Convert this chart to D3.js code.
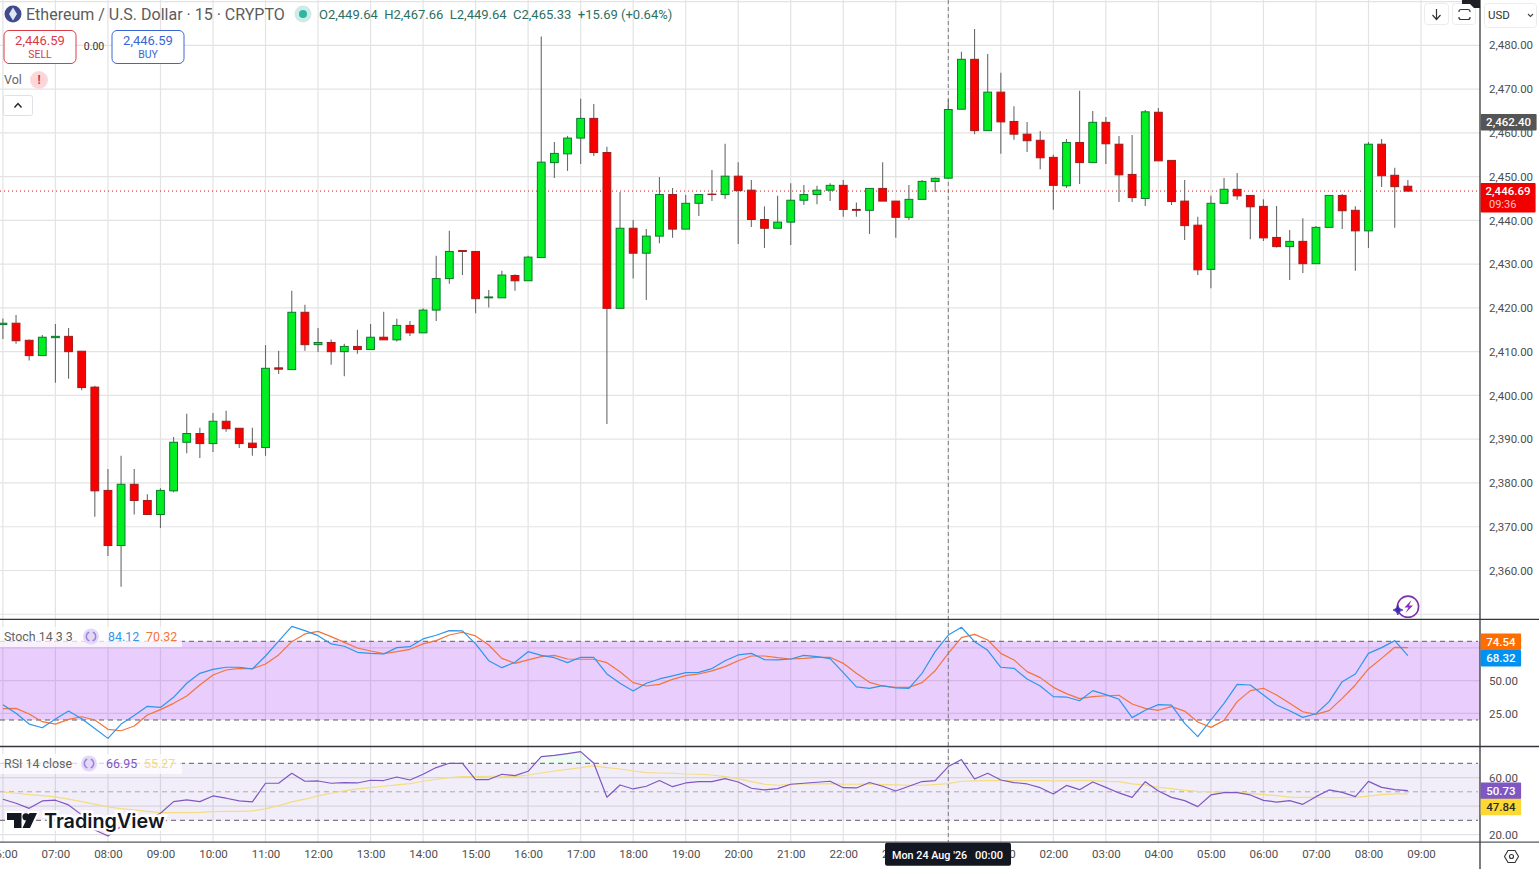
<!DOCTYPE html>
<html>
<head>
<meta charset="utf-8">
<title>ETHUSD 15</title>
<script src="https://cdn.jsdelivr.net/npm/d3@7/dist/d3.min.js"></script>
<style>
  html, body { margin: 0; padding: 0; background: #fff; overflow: hidden; }
  svg { display: block; font-family: Roboto, sans-serif; }
  .axis path, .axis line { display: none; }
  .axis text { fill: #4e4e4e; font-family: Roboto, sans-serif; font-size: 11.5px; }
</style>
</head>
<body>
<svg id="chart" width="1539" height="869"></svg>
<script>
// one bar every 15 minutes, first bar 06:00 on 23 Aug 2026
const opens = [
  2416.2,2416.5,2412.6,2409.1,2413.2,2413.5,2410.1,2401.9,2378.3,2365.7,
  2379.7,2376.0,2372.8,2378.2,2389.3,2391.3,2389.0,2394.1,2392.5,2389.1,
  2388.1,2406.3,2405.9,2419.0,2411.6,2412.1,2410.0,2411.2,2410.5,2413.3,
  2412.7,2416.0,2414.3,2419.5,2426.7,2433.1,2432.9,2422.3,2422.3,2427.4,
  2426.2,2431.5,2453.2,2455.2,2458.8,2463.3,2455.5,2419.9,2438.2,2432.5,
  2436.4,2445.9,2438.0,2443.9,2446.0,2445.9,2450.1,2446.9,2440.2,2438.2,
  2439.6,2444.6,2445.9,2446.9,2448.0,2442.5,2442.3,2447.3,2444.4,2440.7,
  2444.8,2448.9,2449.64,2465.4,2476.8,2460.5,2469.3,2462.6,2459.7,2458.3,
  2454.4,2447.9,2457.8,2453.2,2462.4,2457.4,2450.5,2445.0,2464.7,2453.7,
  2444.4,2438.9,2428.8,2443.9,2447.1,2445.7,2443.2,2436.1,2434.0,2435.2,
  2430.1,2438.4,2445.7,2442.3,2437.6,2457.4,2450.3,2447.8
]
const highs = [
  2417.6,2418.4,2412.8,2413.8,2416.3,2415.4,2410.1,2402.2,2383.2,2386.2,
  2383.2,2377.4,2378.8,2390.5,2395.8,2392.6,2396.0,2396.5,2392.5,2392.6,
  2411.5,2410.2,2423.9,2420.7,2415.4,2412.8,2411.8,2415.0,2416.3,2419.1,
  2417.5,2417.0,2419.9,2431.9,2437.6,2433.1,2432.9,2424.1,2428.5,2427.7,
  2431.9,2482.0,2457.9,2459.3,2467.8,2466.6,2456.8,2446.5,2440.1,2438.0,
  2449.9,2447.4,2445.8,2445.9,2451.5,2457.5,2453.3,2449.2,2443.2,2445.6,
  2448.5,2448.1,2447.9,2448.5,2449.2,2444.1,2447.3,2453.3,2444.4,2448.1,
  2449.2,2449.8,2467.66,2478.5,2483.7,2478.0,2473.7,2466.1,2462.5,2460.4,
  2455.0,2458.6,2469.6,2465.0,2463.6,2459.3,2459.5,2465.2,2465.7,2453.7,
  2449.2,2440.8,2445.6,2449.7,2450.8,2445.7,2444.8,2443.3,2437.8,2440.5,
  2438.7,2445.7,2446.0,2443.2,2457.9,2458.6,2452.0,2449.2
]
const lows = [
  2412.9,2411.8,2408.0,2409.1,2402.9,2403.8,2401.2,2372.3,2363.3,2356.3,
  2372.8,2372.8,2369.7,2377.9,2386.8,2385.7,2387.1,2391.7,2388.0,2386.2,
  2386.2,2404.9,2405.9,2410.2,2409.9,2407.0,2404.4,2409.5,2410.5,2412.7,
  2412.3,2413.6,2414.3,2417.0,2425.5,2427.5,2418.8,2420.1,2422.3,2423.9,
  2426.2,2431.5,2449.7,2451.3,2452.9,2454.7,2393.5,2419.9,2426.7,2421.8,
  2434.8,2436.0,2438.0,2441.0,2444.4,2444.9,2434.6,2438.5,2433.7,2438.2,
  2434.4,2443.5,2443.7,2444.4,2440.8,2440.8,2436.9,2444.4,2436.0,2440.1,
  2444.8,2446.5,2449.64,2465.4,2459.7,2460.5,2455.2,2458.4,2455.6,2451.7,
  2442.4,2447.4,2448.3,2453.2,2452.9,2444.2,2444.2,2443.3,2453.6,2443.5,
  2435.5,2427.5,2424.5,2443.9,2444.7,2435.7,2435.3,2433.8,2426.4,2428.0,
  2430.1,2438.4,2438.0,2428.5,2433.7,2447.6,2438.3,2446.6
]
const closes = [
  2416.5,2412.5,2409.1,2413.3,2413.5,2410.0,2401.8,2378.2,2365.7,2379.7,
  2376.0,2372.8,2378.3,2389.3,2391.3,2389.0,2394.1,2392.4,2389.0,2388.1,
  2406.2,2406.0,2419.0,2411.6,2412.1,2410.0,2411.2,2410.5,2413.3,2412.7,
  2416.0,2414.3,2419.5,2426.7,2432.9,2432.9,2422.1,2422.5,2427.5,2426.2,
  2431.6,2453.3,2455.3,2458.8,2463.3,2455.5,2419.9,2438.2,2432.5,2436.4,
  2445.9,2438.0,2443.9,2445.9,2445.9,2450.1,2446.8,2440.2,2438.2,2439.6,
  2444.6,2445.9,2446.9,2448.0,2442.5,2442.3,2447.3,2444.4,2440.7,2444.8,
  2448.9,2449.6,2465.33,2476.8,2460.5,2469.3,2462.5,2459.7,2458.2,2454.3,
  2448.0,2457.8,2453.2,2462.4,2457.5,2450.4,2445.2,2464.8,2453.6,2444.3,
  2438.8,2428.7,2443.9,2447.1,2445.6,2443.1,2436.0,2434.0,2435.2,2430.1,
  2438.4,2445.7,2442.2,2437.6,2457.4,2450.2,2447.7,2446.69
]
const stochK = [
  31.7,25.1,16.9,14.1,20.8,26.8,21.0,13.6,6.0,16.9,
  23.5,30.4,29.6,37.3,48.0,55.6,58.6,60.2,60.2,58.9,
  68.8,80.2,91.4,88.1,84.3,78.0,76.2,71.6,70.8,70.3,
  75.2,75.9,81.8,84.6,88.1,87.9,78.0,65.2,59.9,64.0,
  72.1,69.3,67.5,63.7,67.8,67.8,55.1,48.0,42.1,48.0,
  51.3,53.6,56.1,56.3,59.2,65.2,69.6,70.8,66.0,65.8,
  66.5,69.3,68.3,66.8,56.1,45.2,44.1,46.2,44.4,44.1,
  55.6,72.1,84.8,90.7,79.7,73.1,60.2,59.4,51.3,45.9,
  37.8,37.5,34.7,42.4,39.3,35.8,21.8,27.4,31.7,31.4,
  17.4,7.3,20.0,32.7,47.2,46.7,39.1,31.4,27.1,22.0,
  24.8,34.0,49.2,55.1,70.8,75.2,80.5,69.1
]
const stochD = [
  28.6,28.9,24.6,18.7,16.9,20.5,22.5,20.0,12.9,11.8,
  15.4,23.8,27.9,32.7,38.3,46.7,54.3,58.1,59.4,59.1,
  62.7,69.6,79.7,85.6,87.6,83.6,79.2,74.9,72.6,70.6,
  72.1,73.9,78.0,80.5,84.8,86.9,84.1,77.2,67.0,63.2,
  65.8,68.3,69.3,66.5,66.3,66.3,63.7,56.8,48.5,45.9,
  47.2,51.0,53.8,55.1,57.4,60.7,65.2,68.8,68.8,67.5,
  66.5,67.0,67.8,67.8,63.2,55.6,48.7,45.9,44.9,44.9,
  48.5,57.6,70.8,82.8,85.3,81.0,70.8,65.8,56.9,52.3,
  44.9,40.1,36.3,37.8,38.5,38.8,32.2,28.9,27.4,30.2,
  26.8,18.5,14.4,19.7,34.0,42.4,44.2,39.1,32.7,26.3,
  24.3,27.1,36.5,46.7,58.9,67.0,75.4,75.2
]
const rsiLine = [
  44.8,42.0,38.4,43.6,44.1,40.8,33.8,23.2,19.0,25.6,
  27.9,30.3,34.9,43.1,44.3,43.1,47.1,45.5,43.6,42.9,
  56.0,56.0,63.0,57.4,57.6,56.0,56.5,56.2,58.1,57.9,
  60.4,58.3,62.3,67.0,70.0,70.0,58.6,58.6,62.3,61.4,
  64.4,74.7,75.6,76.8,78.2,70.0,46.2,54.8,52.0,53.9,
  57.9,53.6,56.2,57.2,57.2,59.3,56.9,52.5,51.3,52.2,
  55.3,56.0,56.7,57.4,52.9,52.7,56.5,53.9,50.6,53.9,
  57.2,57.9,67.7,72.6,59.0,63.0,58.3,56.5,55.5,52.9,
  48.5,54.5,51.5,56.9,53.1,49.2,46.1,57.1,50.6,46.1,
  43.8,39.6,47.8,49.4,49.4,47.8,44.0,42.8,43.8,41.2,
  46.6,51.3,49.6,46.6,57.3,53.1,51.5,50.8
]
const rsiMa = [
  49.9,49.0,48.0,47.3,46.4,44.8,43.1,41.3,39.4,38.2,
  37.3,36.3,35.4,35.4,35.4,35.6,36.1,36.3,36.3,36.6,
  38.0,40.3,42.9,44.8,47.1,49.0,50.6,52.0,52.9,53.9,
  54.8,55.8,57.4,58.8,60.0,60.7,60.7,60.9,60.9,60.7,
  61.8,63.2,64.6,65.8,67.0,68.2,67.0,66.0,64.6,63.5,
  63.2,63.0,62.5,62.3,61.8,60.7,59.3,57.2,55.3,54.6,
  55.3,55.5,55.5,55.8,55.3,55.3,55.5,55.1,54.8,54.6,
  54.6,55.1,55.8,57.4,57.6,57.9,57.9,57.9,57.8,57.8,
  57.6,57.6,57.8,57.8,57.3,57.1,55.5,54.8,53.1,52.2,
  51.0,50.3,49.9,49.9,49.9,48.9,48.0,47.3,46.3,46.1,
  46.1,45.9,45.9,46.1,47.0,48.0,48.5,48.5
]

const priceGrid = [2350,2360,2370,2380,2390,2400,2410,2420,2430,2440,2450,2460,2470,2480,2490]
const priceTicks = [2360,2370,2380,2390,2400,2410,2420,2430,2440,2450,2460,2470,2480]
const stochGrid = [25,50,75]
const stochTicks = [25,50]
const stochLevels = [80,20]
const rsiGrid = [20,40,60]
const rsiTicks = [20,60]
const rsiLevels = [70,30]
const rsiMid = 50
const lastPrice = 2446.69
const crossPrice = 2462.40

const fmtPrice = d3.format(",.2f")
const fmtTime = d3.utcFormat("%H:%M")

const BAR_MS = 15 * 60 * 1000
const startTime = Date.UTC(2026, 7, 23, 6)
const barTime = i => new Date(startTime + i * BAR_MS)
const crossTime = new Date(Date.UTC(2026, 7, 24, 0))
const endTime = new Date(Date.UTC(2026, 7, 24, 9))

const chartRight = 1480
const paneStoch = { top: 619.3, bottom: 746.5 }
const paneRsi = { top: 746.5, bottom: 842.2 }

const x = d3.scaleUtc().domain([barTime(0), endTime]).range([2.9, 1421])
const y = d3.scaleLinear().domain([2360, 2480]).range([570.5, 45.3])
const yStoch = d3.scaleLinear().domain([20, 80]).range([720, 641.3])
const yRsi = d3.scaleLinear().domain([30, 70]).range([820.3, 763.3])

const svg = d3.select("#chart")

// vertical grid runs through all three panes
const hours = d3.utcHour.range(barTime(0), d3.utcHour.offset(endTime, 1))
svg.append("g").selectAll("line").data(hours).join("line")
  .attr("x1", d => x(d)).attr("x2", d => x(d))
  .attr("y1", 0).attr("y2", paneRsi.bottom)
  .attr("stroke", "#e3e3e3").attr("stroke-width", 1.2)

const hGrid = (vals, scale, top, bottom) => svg.append("g").selectAll("line")
  .data(vals.filter(v => scale(v) > top && scale(v) < bottom)).join("line")
  .attr("x1", 0).attr("x2", chartRight)
  .attr("y1", d => scale(d)).attr("y2", d => scale(d))
  .attr("stroke", "#e3e3e3").attr("stroke-width", 1.2)

hGrid(priceGrid, y, 0, paneStoch.top)
hGrid(stochGrid, yStoch, paneStoch.top, paneStoch.bottom)
hGrid(rsiGrid, yRsi, paneRsi.top, paneRsi.bottom)

// indicator bands
svg.append("rect").attr("x", 0).attr("width", chartRight)
  .attr("y", yStoch(stochLevels[0]))
  .attr("height", yStoch(stochLevels[1]) - yStoch(stochLevels[0]))
  .attr("fill", "rgba(160,40,240,0.23)")
svg.append("rect").attr("x", 0).attr("width", chartRight)
  .attr("y", yRsi(rsiLevels[0]))
  .attr("height", yRsi(rsiLevels[1]) - yRsi(rsiLevels[0]))
  .attr("fill", "rgba(126,87,194,0.1)")

const level = (v, scale, color) => svg.append("line")
  .attr("x1", 0).attr("x2", chartRight - 2)
  .attr("y1", scale(v)).attr("y2", scale(v))
  .attr("stroke", color).attr("stroke-width", 1)
  .attr("stroke-dasharray", "5 4")

stochLevels.forEach(v => level(v, yStoch, "#5d5d66"))
rsiLevels.forEach(v => level(v, yRsi, "#5d5d66"))
level(rsiMid, yRsi, "#aaa6b4")

// overbought / oversold shading between the RSI and its levels
const defs = svg.append("defs")
defs.append("clipPath").attr("id", "above70").append("rect")
  .attr("x", 0).attr("y", paneRsi.top).attr("width", chartRight)
  .attr("height", yRsi(70) - paneRsi.top)
defs.append("clipPath").attr("id", "below30").append("rect")
  .attr("x", 0).attr("y", yRsi(30)).attr("width", chartRight)
  .attr("height", paneRsi.bottom - yRsi(30))

const rsiArea = lvl => d3.area()
  .x((d, i) => x(barTime(i))).y0(yRsi(lvl)).y1(d => yRsi(d))
svg.append("path").attr("d", rsiArea(70)(rsiLine))
  .attr("clip-path", "url(#above70)").attr("fill", "rgba(0,200,100,0.07)")
svg.append("path").attr("d", rsiArea(30)(rsiLine))
  .attr("clip-path", "url(#below30)").attr("fill", "rgba(240,40,120,0.14)")

const drawLine = (vals, scale, color) => svg.append("path")
  .datum(vals)
  .attr("fill", "none").attr("stroke", color).attr("stroke-width", 1.2)
  .attr("stroke-linejoin", "round")
  .attr("d", d3.line().x((d, i) => x(barTime(i))).y(d => scale(d)))

drawLine(rsiMa, yRsi, "#f3dc82")
drawLine(rsiLine, yRsi, "#7e57c2")
drawLine(stochD, yStoch, "#f4743b")
drawLine(stochK, yStoch, "#2f96ea")

// crosshair
svg.append("line").attr("x1", x(crossTime)).attr("x2", x(crossTime))
  .attr("y1", 0).attr("y2", paneRsi.bottom)
  .attr("stroke", "#7d7d7d").attr("stroke-width", 1).attr("stroke-dasharray", "4 3")

// last price line
svg.append("line").attr("x1", 0).attr("x2", chartRight)
  .attr("y1", y(lastPrice)).attr("y2", y(lastPrice))
  .attr("stroke", "#d81414").attr("stroke-width", 1).attr("stroke-dasharray", "1 3")

// candles
const bars = d3.range(opens.length).map(i => ({
  t: barTime(i), o: opens[i], h: highs[i], l: lows[i], c: closes[i]
}))
const bodyW = 7.8
const candle = svg.append("g").selectAll("g").data(bars).join("g")
candle.append("line")
  .attr("x1", d => x(d.t)).attr("x2", d => x(d.t))
  .attr("y1", d => y(d.h)).attr("y2", d => y(d.l))
  .attr("stroke", "#6a6a6a").attr("stroke-width", 1.1)
candle.append("rect")
  .attr("x", d => x(d.t) - bodyW / 2).attr("width", bodyW)
  .attr("y", d => y(Math.max(d.o, d.c)))
  .attr("height", d => Math.abs(y(d.o) - y(d.c)))
  .attr("fill", d => d.c >= d.o ? "#00ee22" : "#f80000")
  .attr("stroke", d => d.c >= d.o ? "#0b7a2c" : "#a01c1c")
  .attr("stroke-width", 1)

// pane borders
const border = (x1, y1, x2, y2, color, w) => svg.append("line")
  .attr("x1", x1).attr("y1", y1).attr("x2", x2).attr("y2", y2)
  .attr("stroke", color).attr("stroke-width", w)
border(0, paneStoch.top, 1539, paneStoch.top, "#33363d", 1.3)
border(0, paneStoch.bottom, 1539, paneStoch.bottom, "#33363d", 1.3)
border(0, paneRsi.bottom, 1539, paneRsi.bottom, "#55585f", 1.3)
border(chartRight, 0, chartRight, 869, "#33363d", 1.3)

// axes
svg.append("g").attr("class", "axis")
  .attr("transform", `translate(${chartRight},0)`)
  .call(d3.axisRight(y).tickValues(priceTicks).tickSize(0).tickPadding(9).tickFormat(fmtPrice))
svg.append("g").attr("class", "axis")
  .attr("transform", `translate(${chartRight},0)`)
  .call(d3.axisRight(yStoch).tickValues(stochTicks).tickSize(0).tickPadding(9).tickFormat(d3.format(".2f")))
svg.append("g").attr("class", "axis")
  .attr("transform", `translate(${chartRight},0)`)
  .call(d3.axisRight(yRsi).tickValues(rsiTicks).tickSize(0).tickPadding(9).tickFormat(d3.format(".2f")))
// the 00:00 label sits fully under the crosshair time tag
svg.append("g").attr("class", "axis")
  .attr("transform", `translate(0,${paneRsi.bottom + 2})`)
  .call(d3.axisBottom(x).tickValues(hours.filter(h => +h !== +crossTime)).tickSize(0).tickPadding(6).tickFormat(fmtTime))

// axis tags
const tag = (val, scale, w, h, fill, color, text) => {
  const cy = scale(val)
  svg.append("rect").attr("x", chartRight + 0.6).attr("y", cy - h / 2)
    .attr("width", w).attr("height", h).attr("fill", fill).attr("rx", 1)
  svg.append("text").attr("x", chartRight + 0.6 + w / 2).attr("y", cy)
    .attr("dy", "0.35em").attr("text-anchor", "middle")
    .attr("font-size", 11.5).attr("font-weight", 500).attr("fill", color).text(text)
}
tag(crossPrice, y, 56, 16.5, "#555555", "#ffffff", fmtPrice(crossPrice))

svg.append("rect").attr("x", chartRight + 0.6).attr("y", y(lastPrice) - 8)
  .attr("width", 55).attr("height", 29.5).attr("fill", "#f20000").attr("rx", 1)
svg.append("text").attr("x", chartRight + 28).attr("y", y(lastPrice))
  .attr("dy", "0.35em").attr("text-anchor", "middle")
  .attr("font-size", 11.5).attr("font-weight", 500).attr("fill", "#fff").text(fmtPrice(lastPrice))
svg.append("text").attr("x", chartRight + 9).attr("y", y(lastPrice) + 13)
  .attr("dy", "0.35em")
  .attr("font-size", 11).attr("fill", "#ffc4c4").text("09:36")

tag(74.54, d => 641.8, 40.5, 16.5, "#ff6d00", "#fff", "74.54")
tag(68.32, d => 658.2, 40.5, 16.5, "#0091f2", "#fff", "68.32")
tag(50.73, d => 790.7, 40.5, 16.5, "#7e57c2", "#fff", "50.73")
tag(47.84, d => 807.1, 40.5, 16.5, "#fdd835", "#2a2a2a", "47.84")

// crosshair time tag
svg.append("rect").attr("x", 885).attr("y", paneRsi.bottom + 0.5).attr("width", 126).attr("height", 23)
  .attr("fill", "#131722").attr("rx", 2)
svg.append("text").attr("x", 892).attr("y", 855).attr("dy", "0.35em")
  .attr("font-size", 10.8).attr("font-weight", 500).attr("fill", "#fff").text("Mon 24 Aug '26")
svg.append("text").attr("x", 975).attr("y", 855).attr("dy", "0.35em")
  .attr("font-size", 11).attr("font-weight", 500).attr("fill", "#fff").text("00:00")

// header
svg.append("circle").attr("cx", 13).attr("cy", 14).attr("r", 8.5).attr("fill", "#3e4c8e")
svg.append("path").attr("d", "M13 7.5 L17 14 L13 20.5 L9 14 Z").attr("fill", "#dfe5f5")
svg.append("text").attr("x", 26).attr("y", 14).attr("dy", "0.35em")
  .attr("font-size", 16).attr("fill", "#5c5c5c").text("Ethereum / U.S. Dollar · 15 · CRYPTO")
svg.append("circle").attr("cx", 303).attr("cy", 14).attr("r", 8.5).attr("fill", "#cdece7")
svg.append("circle").attr("cx", 303).attr("cy", 14).attr("r", 4).attr("fill", "#2fb5a1")
svg.append("text").attr("x", 319).attr("y", 14.5).attr("dy", "0.35em")
  .attr("font-size", 13).attr("fill", "#2d6f61").style("white-space", "pre")
  .text("O2,449.64  H2,467.66  L2,449.64  C2,465.33  +15.69 (+0.64%)")

const orderBox = (bx, color, price, label) => {
  svg.append("rect").attr("x", bx).attr("y", 30.5).attr("width", 72).attr("height", 33)
    .attr("rx", 5).attr("fill", "#fff").attr("stroke", color)
  svg.append("text").attr("x", bx + 36).attr("y", 40).attr("dy", "0.35em")
    .attr("text-anchor", "middle").attr("font-size", 13).attr("fill", color).text(price)
  svg.append("text").attr("x", bx + 36).attr("y", 54).attr("dy", "0.35em")
    .attr("text-anchor", "middle").attr("font-size", 10.5).attr("fill", color).text(label)
}
orderBox(4, "#dc3a47", "2,446.59", "SELL")
orderBox(112, "#3a66d6", "2,446.59", "BUY")
svg.append("text").attr("x", 94).attr("y", 46).attr("dy", "0.35em").attr("text-anchor", "middle")
  .attr("font-size", 10.5).attr("fill", "#333").text("0.00")

svg.append("text").attr("x", 4).attr("y", 80).attr("dy", "0.35em")
  .attr("font-size", 12.5).attr("fill", "#666").text("Vol")
svg.append("circle").attr("cx", 39).attr("cy", 80).attr("r", 9).attr("fill", "#fbd7da")
svg.append("text").attr("x", 39).attr("y", 80).attr("dy", "0.35em").attr("text-anchor", "middle")
  .attr("font-size", 12).attr("font-weight", 700).attr("fill", "#e0303c").text("!")
svg.append("rect").attr("x", 3.5).attr("y", 95.5).attr("width", 29).attr("height", 20)
  .attr("rx", 2).attr("fill", "#fff").attr("stroke", "#dfe1e6")
svg.append("path").attr("d", "M14.5 107.5 L18 103.5 L21.5 107.5").attr("fill", "none")
  .attr("stroke", "#222").attr("stroke-width", 1.4)

// top right buttons
const btn = (bx, by, w, h) => svg.append("rect").attr("x", bx).attr("y", by).attr("width", w).attr("height", h)
  .attr("rx", 3).attr("fill", "#fff").attr("stroke", "#ececec")
btn(1424.5, 3.5, 24, 21)
btn(1452.5, 3.5, 23, 21)
btn(1484.5, 3.5, 52, 24)
svg.append("path").attr("d", "M1436.5 9 V19 M1432.5 15 L1436.5 19.5 L1440.5 15").attr("fill", "none")
  .attr("stroke", "#333").attr("stroke-width", 1.2)
svg.append("path")
  .attr("d", "M1459 12 V11.5 Q1459 9.5 1461 9.5 H1468 Q1470 9.5 1470 11.5 V12 M1459 17 V17.5 Q1459 19.5 1461 19.5 H1468 Q1470 19.5 1470 17.5 V17")
  .attr("fill", "none").attr("stroke", "#333").attr("stroke-width", 1.2)
svg.append("path").attr("d", "M1462 0 H1480 V8 H1474 L1470 4 H1462 Z").attr("fill", "#1f2126")
svg.append("text").attr("x", 1488).attr("y", 14.5).attr("dy", "0.35em")
  .attr("font-size", 11.5).attr("fill", "#333").text("USD")
svg.append("path").attr("d", "M1528 14 L1530.5 16.5 L1533 14").attr("fill", "none").attr("stroke", "#444").attr("stroke-width", 1.1)

// indicator legends
const legend = (ly, name, nameEnd, a, aColor, b, bColor) => {
  svg.append("rect").attr("x", 0).attr("y", ly - 9.5).attr("width", 182).attr("height", 20)
    .attr("fill", "rgba(255,255,255,0.72)")
  svg.append("text").attr("x", 4).attr("y", ly).attr("dy", "0.35em")
    .attr("font-size", 12.4).attr("fill", "#636363").text(name)
  const cx = nameEnd + 16
  svg.append("circle").attr("cx", cx).attr("cy", ly).attr("r", 8).attr("fill", "#e3d9f7")
  svg.append("path").attr("d", d3.arc()({ innerRadius: 4, outerRadius: 5.4, startAngle: 0.4, endAngle: 2.8 }))
    .attr("transform", `translate(${cx},${ly})`).attr("fill", "#9a7fdc")
  svg.append("path").attr("d", d3.arc()({ innerRadius: 4, outerRadius: 5.4, startAngle: 3.5, endAngle: 5.9 }))
    .attr("transform", `translate(${cx},${ly})`).attr("fill", "#9a7fdc")
  svg.append("text").attr("x", cx + 17).attr("y", ly).attr("dy", "0.35em")
    .attr("font-size", 12.4).attr("fill", aColor).text(a)
  svg.append("text").attr("x", cx + 55).attr("y", ly).attr("dy", "0.35em")
    .attr("font-size", 12.4).attr("fill", bColor).text(b)
}
legend(636.5, "Stoch 14 3 3", 75, "84.12", "#2f96ea", "70.32", "#f4743b")
legend(763.5, "RSI 14 close", 73, "66.95", "#7e57c2", "55.27", "#f3dc82")

// watermark
const mark = svg.append("g")
mark.append("path")
  .attr("d", "M7 813 H21.5 V828 H14 V820 H7 Z M37 813 L30 828 H22.5 L29.5 813 Z")
  .attr("fill", "#131722").attr("stroke", "#fff").attr("stroke-width", 4).attr("paint-order", "stroke")
mark.append("circle").attr("cx", 26).attr("cy", 816.8).attr("r", 3.6)
  .attr("fill", "#131722")
mark.append("text").attr("x", 44).attr("y", 821.5).attr("dy", "0.35em")
  .attr("font-family", "Inter, sans-serif").attr("font-size", 19.8).attr("font-weight", 600)
  .attr("fill", "#131722").attr("stroke", "#fff").attr("stroke-width", 5)
  .attr("paint-order", "stroke").text("TradingView")

// spark badge
svg.append("circle").attr("cx", 1408).attr("cy", 606.7).attr("r", 10.6)
  .attr("fill", "#fff").attr("stroke", "#7b2fa8").attr("stroke-width", 1.6)
svg.append("path").attr("d", "M1411.5 600 L1404.5 607.5 H1408.5 L1405.5 613 L1413 605.5 H1409 Z").attr("fill", "#8a2fc4")
svg.append("path").attr("d", "M1397.8 605 Q1398.4 609.2 1402.8 610 Q1398.4 610.8 1397.8 615 Q1397.2 610.8 1393 610 Q1397.2 609.2 1397.8 605 Z")
  .attr("fill", "#3d2bb0").attr("stroke", "#3d2bb0").attr("stroke-width", 0.8)

// settings icon
svg.append("path").attr("d", "M1504.5 856.5 L1508 850.5 H1515 L1518.5 856.5 L1515 862.5 H1508 Z")
  .attr("fill", "none").attr("stroke", "#333").attr("stroke-width", 1.1)
svg.append("circle").attr("cx", 1511.5).attr("cy", 856.5).attr("r", 2).attr("fill", "none")
  .attr("stroke", "#333").attr("stroke-width", 1.1)
</script>
</body>
</html>
